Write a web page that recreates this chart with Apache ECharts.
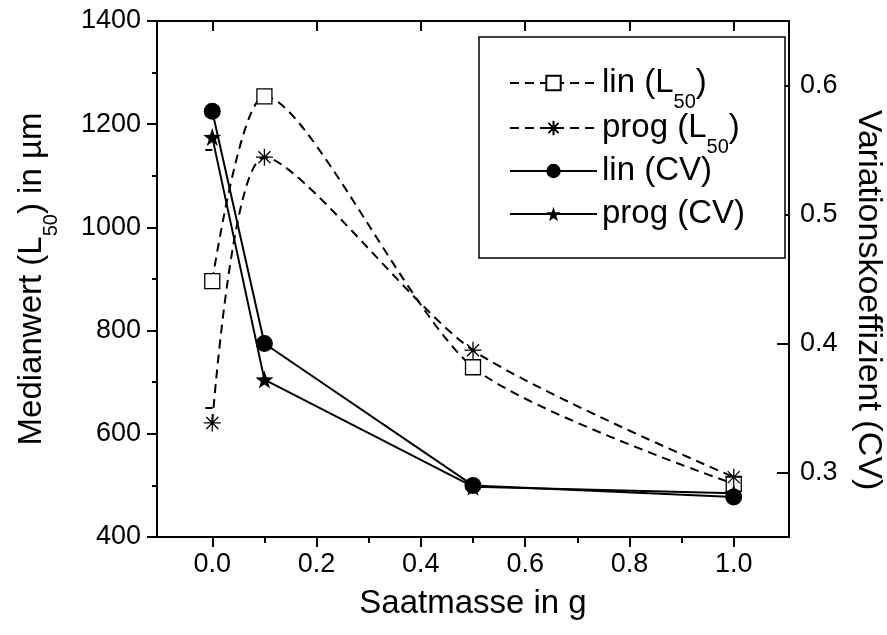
<!DOCTYPE html>
<html><head><meta charset="utf-8">
<script src="https://cdn.jsdelivr.net/npm/echarts@6/dist/echarts.min.js"></script>
<style>html,body{margin:0;padding:0;background:#fff}#c{width:887px;height:635px}</style>
</head><body><div id="c"></div>
<script>
const xValues = [0, 0.1, 0.5, 1.0];
const linL50 = [896, 1254, 729, 503];
const progL50 = [621, 1136, 762, 516];
const linCV = [0.580, 0.400, 0.290, 0.281];
const progCV = [0.560, 0.372, 0.289, 0.284];
const xTicks = [0, 0.2, 0.4, 0.6, 0.8, 1.0];
const xMinorTicks = [0.1, 0.3, 0.5, 0.7, 0.9];
const cvTicks = [0.3, 0.4, 0.5, 0.6];
const cvMinorTicks = [0.35, 0.45, 0.55];
const seriesNames = ['lin (L50)', 'prog (L50)', 'lin (CV)', 'prog (CV)'];
const legendLabels = {
  'lin (L50)': '{a|lin (L}{s|50}{a|)}',
  'prog (L50)': '{a|prog (L}{s|50}{a|)}',
  'lin (CV)': '{a|lin (CV)}',
  'prog (CV)': '{a|prog (CV)}'
};

const FONT = '"Liberation Sans", Arial, sans-serif';
const BLACK = '#000';
const STAR = 'path://M0,-10L2.35,-3.24L9.51,-3.09L3.8,1.24L5.88,8.09L0,4L-5.88,8.09L-3.8,1.24L-9.51,-3.09L-2.35,-3.24Z';
const ASTER = 'path://M0,-10L0,10M-10,0L10,0M-7.07,-7.07L7.07,7.07M-7.07,7.07L7.07,-7.07';

const pairs = ys => xValues.map((x, i) => [x, ys[i]]);
const XMIN = -0.106, XMAX = 1.106;

const richSub = {
  a: {fontFamily: FONT, fontSize: 33, lineHeight: 44, height: 44, verticalAlign: 'middle', color: BLACK},
  s: {fontFamily: FONT, fontSize: 20, lineHeight: 6, height: 6, verticalAlign: 'bottom', color: BLACK}
};
const legendCenters = [83, 128, 171, 214];
const legends = seriesNames.map((n, i) => ({
  data: [n],
  orient: 'vertical', left: 509, top: legendCenters[i] - 22, padding: 0,
  itemWidth: 87, itemHeight: 18, itemGap: 0, itemTextGap: 11,
  z: 5,
  formatter: nm => legendLabels[nm],
  textStyle: {fontFamily: FONT, color: BLACK, rich: richSub}
}));

const chart = echarts.init(document.getElementById('c'), null, {renderer: 'canvas'});
chart.setOption({
  animation: false,
  backgroundColor: '#fff',
  textStyle: {fontFamily: FONT, color: BLACK},
  grid: {left: 157, right: 98, top: 21, bottom: 98, outerBoundsMode: 'none'},
  graphic: [{
    type: 'rect', z: 3,
    shape: {x: 479, y: 37, width: 306, height: 221},
    style: {fill: '#fff', stroke: BLACK, lineWidth: 1.5}
  }],
  legend: legends,
  xAxis: [{
    type: 'value', position: 'bottom', min: XMIN, max: XMAX,
    name: 'Saatmasse in g', nameLocation: 'middle', nameGap: 47,
    nameTextStyle: {fontFamily: FONT, fontSize: 33, lineHeight: 40, color: BLACK},
    axisLine: {show: true, onZero: false, lineStyle: {color: BLACK, width: 2}},
    axisTick: {show: true, inside: false, length: 10, customValues: xTicks, lineStyle: {color: BLACK, width: 2}},
    axisLabel: {show: true, customValues: xTicks, margin: 14, fontFamily: FONT, fontSize: 27, color: BLACK,
      formatter: v => v.toFixed(1)},
    splitLine: {show: false}
  }, {
    type: 'value', position: 'bottom', min: XMIN, max: XMAX,
    axisLine: {show: false},
    axisTick: {show: true, inside: false, length: 6, customValues: xMinorTicks, lineStyle: {color: BLACK, width: 2}},
    axisLabel: {show: false}, splitLine: {show: false}
  }, {
    type: 'value', position: 'top', min: XMIN, max: XMAX,
    axisLine: {show: true, onZero: false, lineStyle: {color: BLACK, width: 2}},
    axisTick: {show: true, inside: true, length: 10, customValues: xTicks, lineStyle: {color: BLACK, width: 2}},
    axisLabel: {show: false}, splitLine: {show: false}
  }],
  yAxis: [{
    type: 'value', position: 'left', min: 400, max: 1400, interval: 200,
    name: '{a|Medianwert (L}{s|50}{a|) in µm}', nameLocation: 'middle', nameGap: 103,
    nameTextStyle: {fontFamily: FONT, color: BLACK, rich: richSub},
    axisLine: {show: true, onZero: false, lineStyle: {color: BLACK, width: 2}},
    axisTick: {show: true, inside: false, length: 10, lineStyle: {color: BLACK, width: 2}},
    minorTick: {show: true, splitNumber: 2, length: 5, lineStyle: {color: BLACK, width: 2}},
    axisLabel: {margin: 16, fontFamily: FONT, fontSize: 27, color: BLACK, formatter: v => String(v)},
    splitLine: {show: false}, minorSplitLine: {show: false}
  }, {
    type: 'value', position: 'right', min: 0.25, max: 0.65,
    name: 'Variationskoeffizient (CV)', nameLocation: 'middle', nameGap: 48, nameRotate: -90,
    nameTextStyle: {fontFamily: FONT, fontSize: 34, lineHeight: 40, color: BLACK, padding: [0, 0, 0, 42]},
    axisLine: {show: true, onZero: false, lineStyle: {color: BLACK, width: 2}},
    axisTick: {show: true, inside: true, length: 12, customValues: cvTicks, lineStyle: {color: BLACK, width: 2}},
    axisLabel: {show: true, customValues: cvTicks, margin: 11, fontFamily: FONT, fontSize: 27, color: BLACK,
      formatter: v => v.toFixed(1)},
    splitLine: {show: false}
  }, {
    type: 'value', position: 'right', min: 0.25, max: 0.65,
    axisLine: {show: false},
    axisTick: {show: true, inside: true, length: 7, customValues: cvMinorTicks, lineStyle: {color: BLACK, width: 2}},
    axisLabel: {show: false}, splitLine: {show: false}
  }],
  series: [{
    name: seriesNames[0], type: 'line', xAxisIndex: 0, yAxisIndex: 0,
    data: pairs(linL50), smooth: 0.25,
    symbol: 'rect', symbolSize: 15, z: 3,
    lineStyle: {color: BLACK, width: 2, type: [9, 6]},
    itemStyle: {color: '#fff', borderColor: BLACK, borderWidth: 1.3}
  }, {
    name: seriesNames[1], type: 'line', xAxisIndex: 0, yAxisIndex: 0,
    data: pairs(progL50), smooth: 0.25,
    symbol: ASTER, symbolSize: 17, z: 3,
    lineStyle: {color: BLACK, width: 2, type: [9, 6]},
    itemStyle: {color: '#fff', borderColor: BLACK, borderWidth: 1.3}
  }, {
    name: seriesNames[2], type: 'line', xAxisIndex: 0, yAxisIndex: 1,
    data: pairs(linCV),
    symbol: 'circle', symbolSize: 17, z: 3,
    lineStyle: {color: BLACK, width: 2},
    itemStyle: {color: BLACK, borderColor: BLACK, borderWidth: 0}
  }, {
    name: seriesNames[3], type: 'line', xAxisIndex: 0, yAxisIndex: 1,
    data: pairs(progCV),
    symbol: STAR, symbolSize: 18, z: 3,
    lineStyle: {color: BLACK, width: 2},
    itemStyle: {color: BLACK, borderColor: BLACK, borderWidth: 0}
  }]
});
</script></body></html>
